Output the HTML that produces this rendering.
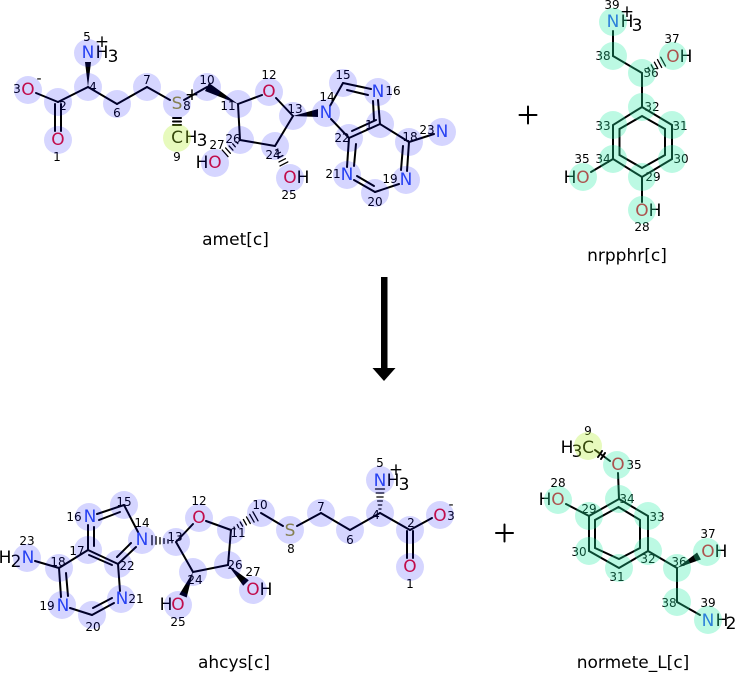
<!DOCTYPE html>
<html><head><meta charset="utf-8">
<style>
html,body{margin:0;padding:0;background:#fff;}
svg{display:block;}
text{font-family:"DejaVu Sans","Liberation Sans",sans-serif;}
.a{font-size:17px;text-anchor:middle;dominant-baseline:central;}
.n{font-size:12px;text-anchor:middle;dominant-baseline:central;fill:#000;}
.N{fill:#3050f0;}
.O{fill:#e8102a;}
.S{fill:#a09a30;}
.t{font-size:17px;text-anchor:middle;fill:#000;}
</style></head>
<body>
<svg width="735" height="674" viewBox="0 0 735 674" xmlns="http://www.w3.org/2000/svg">
<g stroke="#000" stroke-width="2" fill="none" stroke-linecap="round">
<!-- amet -->
<line x1="36" y1="93" x2="58" y2="102"/>
<line x1="55" y1="104" x2="55" y2="131"/>
<line x1="61" y1="104" x2="61" y2="131"/>
<line x1="58" y1="102" x2="88" y2="87"/>
<line x1="88" y1="87" x2="117" y2="104"/>
<line x1="117" y1="104" x2="147" y2="87"/>
<line x1="147" y1="87" x2="170" y2="100"/>
<line x1="184" y1="100" x2="207" y2="87"/>
<line x1="173" y1="118" x2="181" y2="118"/>
<line x1="173" y1="121.5" x2="181" y2="121.5"/>
<line x1="173" y1="125" x2="181" y2="125"/>
<line x1="238" y1="104" x2="262" y2="95"/>
<line x1="276" y1="98" x2="293" y2="116"/>
<line x1="293" y1="116" x2="275" y2="146"/>
<line x1="275" y1="146" x2="240" y2="140"/>
<line x1="240" y1="140" x2="238" y2="104"/>
<line x1="330" y1="106" x2="343" y2="83"/>
<line x1="343" y1="83" x2="371" y2="89"/>
<line x1="347" y1="90" x2="368" y2="95"/>
<line x1="378" y1="100" x2="380" y2="124"/>
<line x1="373" y1="101" x2="374" y2="120"/>
<line x1="380" y1="124" x2="349" y2="138"/>
<line x1="352" y1="131" x2="376" y2="120"/>
<line x1="349" y1="138" x2="331" y2="119"/>
<line x1="380" y1="124" x2="409" y2="142"/>
<line x1="409" y1="142" x2="407" y2="171"/>
<line x1="403" y1="146" x2="401" y2="170"/>
<line x1="399" y1="184" x2="375" y2="192"/>
<line x1="375" y1="192" x2="354" y2="180"/>
<line x1="374" y1="186" x2="357" y2="176"/>
<line x1="347" y1="167" x2="349" y2="138"/>
<line x1="354" y1="166" x2="356" y2="144"/>
<line x1="409" y1="142" x2="434" y2="134"/>
<!-- amet hashes -->
<g stroke-width="1.3">
<line x1="236.2" y1="141.8" x2="237.8" y2="143.6"/>
<line x1="232.7" y1="143.8" x2="235.3" y2="146.8"/>
<line x1="229.1" y1="145.9" x2="232.9" y2="150.1"/>
<line x1="225.6" y1="147.9" x2="230.4" y2="153.3"/>
<line x1="222.2" y1="150" x2="228" y2="156.6"/>
<line x1="275.7" y1="150.1" x2="277.9" y2="149.1"/>
<line x1="276.8" y1="154.1" x2="280.4" y2="152.3"/>
<line x1="277.9" y1="158" x2="282.9" y2="155.5"/>
<line x1="279" y1="161.9" x2="285.4" y2="158.7"/>
<line x1="280" y1="165.9" x2="287.8" y2="161.9"/>
</g>
<!-- nrpphr -->
<line x1="613" y1="31" x2="613" y2="56"/>
<line x1="613" y1="56" x2="642" y2="73"/>
<line x1="642" y1="73" x2="642" y2="107"/>
<polygon points="642,107 672,125 672,159 642,177 613,159 613,125"/>
<polygon points="642,116 665,129 665,155 642,168 619.5,155 619.5,129"/>
<line x1="613" y1="159" x2="591" y2="172"/>
<line x1="642" y1="177" x2="642" y2="202"/>
<g stroke-width="1.3">
<line x1="644.9" y1="70" x2="646.1" y2="72.2"/>
<line x1="648.1" y1="67.4" x2="650" y2="71"/>
<line x1="651.2" y1="64.8" x2="653.8" y2="69.8"/>
<line x1="654.4" y1="62.2" x2="657.8" y2="68.6"/>
<line x1="657.5" y1="59.6" x2="661.7" y2="67.4"/>
<line x1="660.7" y1="57.2" x2="665.5" y2="66"/>
</g>
<!-- ahcys -->
<line x1="35" y1="561" x2="59" y2="568"/>
<line x1="59" y1="568" x2="88" y2="550"/>
<line x1="88" y1="550" x2="118" y2="564"/>
<line x1="118" y1="564" x2="120" y2="591"/>
<line x1="114" y1="603" x2="92" y2="615"/>
<line x1="92" y1="615" x2="70" y2="608"/>
<line x1="61" y1="597" x2="59" y2="568"/>
<line x1="66" y1="573" x2="68" y2="596"/>
<line x1="93" y1="608" x2="112" y2="598"/>
<line x1="112" y1="565" x2="89" y2="555"/>
<line x1="88" y1="525" x2="88" y2="550"/>
<line x1="94" y1="527" x2="94" y2="546"/>
<line x1="97" y1="514" x2="124" y2="505"/>
<line x1="99" y1="520" x2="120" y2="512"/>
<line x1="124" y1="505" x2="138" y2="532"/>
<line x1="136" y1="547" x2="118" y2="564"/>
<line x1="131" y1="543" x2="117" y2="557"/>
<line x1="176" y1="542" x2="193" y2="524"/>
<line x1="206" y1="521" x2="231" y2="530"/>
<line x1="261" y1="513" x2="283" y2="526"/>
<line x1="297" y1="526" x2="321" y2="513"/>
<line x1="321" y1="513" x2="350" y2="530"/>
<line x1="350" y1="530" x2="380" y2="513"/>
<line x1="380" y1="513" x2="410" y2="530"/>
<line x1="407" y1="531" x2="407" y2="558"/>
<line x1="413" y1="531" x2="413" y2="558"/>
<line x1="410" y1="530" x2="432" y2="518"/>
<line x1="176" y1="542" x2="193" y2="572"/>
<line x1="193" y1="572" x2="228" y2="565"/>
<line x1="228" y1="565" x2="231" y2="530"/>
<g stroke-width="1.3">
<line x1="172" y1="540.7" x2="172" y2="542.7"/>
<line x1="168" y1="539.7" x2="168" y2="543.1"/>
<line x1="164" y1="538.7" x2="164" y2="543.5"/>
<line x1="160" y1="537.7" x2="160" y2="543.9"/>
<line x1="156" y1="536.7" x2="156" y2="544.3"/>
<line x1="152" y1="535.7" x2="152" y2="544.7"/>
<line x1="234" y1="527.1" x2="235" y2="528.9"/>
<line x1="237.2" y1="524.6" x2="238.8" y2="527.6"/>
<line x1="240.2" y1="522" x2="242.6" y2="526.2"/>
<line x1="243.4" y1="519.5" x2="246.4" y2="524.9"/>
<line x1="246.5" y1="516.9" x2="250.3" y2="523.5"/>
<line x1="249.7" y1="514.3" x2="254.1" y2="522.1"/>
<line x1="252.9" y1="511.8" x2="258" y2="520.8"/>
<line x1="379" y1="509" x2="381" y2="509"/>
<line x1="378.3" y1="505" x2="381.7" y2="505"/>
<line x1="377.6" y1="501" x2="382.4" y2="501"/>
<line x1="376.9" y1="497" x2="383.1" y2="497"/>
<line x1="376.2" y1="493" x2="383.8" y2="493"/>
<line x1="375.5" y1="489" x2="384.5" y2="489"/>
</g>
<!-- normete -->
<line x1="595" y1="450" x2="610" y2="461"/>
<line x1="598" y1="457" x2="602" y2="451"/>
<line x1="601" y1="459" x2="605" y2="453"/>
<line x1="618" y1="473" x2="619" y2="499"/>
<polygon points="619,499 648,516 648,551 619,568 589,551 589,516"/>
<polygon points="618.5,507 640,520 640,548 619,559 595,548 595,520"/>
<line x1="589" y1="516" x2="566" y2="504"/>
<line x1="648" y1="551" x2="677" y2="568"/>
<line x1="677" y1="568" x2="677" y2="602"/>
<line x1="677" y1="602" x2="700" y2="615"/>
<!-- plus signs -->
<line x1="519.5" y1="115" x2="536.5" y2="115"/>
<line x1="528" y1="106.5" x2="528" y2="123.5"/>
<line x1="496" y1="533" x2="513" y2="533"/>
<line x1="504.5" y1="524.5" x2="504.5" y2="541.5"/>
</g>
<g fill="#000">
<polygon points="88,87 85,62 91,62"/>
<polygon points="238,104 209,83 205,91"/>
<polygon points="293,116 318,109 318,117"/>
<polygon points="228,565 248.8,580.2 243.2,585.8"/>
<polygon points="193,572 186.7,597.5 179.3,594.5"/>
<polygon points="677,568 700.9,559.5 697.1,552.5"/>
<rect x="381" y="277" width="6.5" height="92"/>
<polygon points="372.5,368 395.5,368 384,381"/>
</g>

<!-- amet labels -->
<text class="a O" x="28" y="90">O</text>
<text class="n" x="17" y="89">3</text>
<text class="a" x="39" y="79" style="font-size:14px">-</text>
<text class="n" x="63" y="106">2</text>
<text class="a O" x="58" y="140">O</text>
<text class="n" x="57" y="157">1</text>
<text class="n" x="93" y="87">4</text>
<text class="a N" x="88" y="53">N</text>
<text class="a" x="102" y="53">H</text>
<text class="a" x="113" y="57">3</text>
<text class="a" x="102" y="42">+</text>
<text class="n" x="87" y="37">5</text>
<text class="n" x="117" y="113">6</text>
<text class="n" x="147" y="80">7</text>
<text class="a S" x="177" y="104">S</text>
<text class="n" x="187" y="106">8</text>
<text class="a" x="192" y="95">+</text>
<text class="a" x="177" y="138">C</text>
<text class="a" x="191" y="138">H</text>
<text class="a" x="202" y="141">3</text>
<text class="n" x="177" y="157">9</text>
<text class="n" x="207" y="80">10</text>
<text class="n" x="228" y="106">11</text>
<text class="a O" x="269" y="92">O</text>
<text class="n" x="269" y="75">12</text>
<text class="n" x="295" y="109">13</text>
<text class="a N" x="326" y="113">N</text>
<text class="n" x="327" y="97">14</text>
<text class="n" x="343" y="75">15</text>
<text class="a N" x="378" y="92">N</text>
<text class="n" x="393" y="91">16</text>
<text class="n" x="369" y="125">1</text>
<text class="n" x="342" y="138">22</text>
<text class="a N" x="347" y="175">N</text>
<text class="n" x="333" y="174">21</text>
<text class="n" x="375" y="202">20</text>
<text class="a N" x="406" y="180">N</text>
<text class="n" x="390" y="179">19</text>
<text class="n" x="410" y="137">18</text>
<text class="n" x="427" y="130">23</text>
<text class="a N" x="442" y="132">N</text>
<text class="n" x="273" y="155">24</text>
<text class="a O" x="290" y="178">O</text>
<text class="a" x="303" y="178">H</text>
<text class="n" x="289" y="195">25</text>
<text class="n" x="233" y="139">26</text>
<text class="n" x="217" y="145">27</text>
<text class="a" x="202" y="163">H</text>
<text class="a O" x="215" y="163">O</text>
<text class="t" x="235.5" y="245">amet[c]</text>

<!-- nrpphr labels -->
<text class="n" x="612" y="5">39</text>
<text class="a N" x="613" y="22">N</text>
<text class="a" x="627" y="22">H</text>
<text class="a" x="637" y="26">3</text>
<text class="a" x="627" y="12">+</text>
<text class="n" x="603" y="56">38</text>
<text class="n" x="672" y="39">37</text>
<text class="a O" x="673" y="57">O</text>
<text class="a" x="686" y="57">H</text>
<text class="n" x="651" y="73">36</text>
<text class="n" x="652" y="107">32</text>
<text class="n" x="603" y="126">33</text>
<text class="n" x="680" y="126">31</text>
<text class="n" x="603" y="159">34</text>
<text class="n" x="681" y="159">30</text>
<text class="n" x="653" y="177">29</text>
<text class="n" x="582" y="159">35</text>
<text class="a" x="570" y="178">H</text>
<text class="a O" x="583" y="178">O</text>
<text class="a O" x="642" y="211">O</text>
<text class="a" x="655" y="211">H</text>
<text class="n" x="642" y="227">28</text>
<text class="t" x="627" y="261">nrpphr[c]</text>

<!-- ahcys labels -->
<text class="a" x="5" y="558">H</text>
<text class="a" x="16" y="562">2</text>
<text class="a N" x="28" y="558">N</text>
<text class="n" x="27" y="541">23</text>
<text class="n" x="58" y="562">18</text>
<text class="n" x="77" y="551">17</text>
<text class="n" x="74" y="517">16</text>
<text class="a N" x="90" y="517">N</text>
<text class="n" x="124" y="502">15</text>
<text class="n" x="142" y="523">14</text>
<text class="a N" x="142" y="540">N</text>
<text class="n" x="127" y="566">22</text>
<text class="a N" x="122" y="599">N</text>
<text class="n" x="136" y="599">21</text>
<text class="n" x="47" y="606">19</text>
<text class="a N" x="63" y="606">N</text>
<text class="n" x="93" y="627">20</text>
<text class="n" x="175" y="537">13</text>
<text class="n" x="199" y="501">12</text>
<text class="a O" x="199" y="518">O</text>
<text class="n" x="238" y="533">11</text>
<text class="n" x="260" y="505">10</text>
<text class="a S" x="290" y="531">S</text>
<text class="n" x="291" y="549">8</text>
<text class="n" x="321" y="507">7</text>
<text class="n" x="350" y="540">6</text>
<text class="n" x="376" y="515">4</text>
<text class="n" x="380" y="463">5</text>
<text class="a N" x="380" y="481">N</text>
<text class="a" x="393" y="481">H</text>
<text class="a" x="404" y="485">3</text>
<text class="a" x="396" y="470">+</text>
<text class="n" x="411" y="523">2</text>
<text class="a O" x="410" y="567">O</text>
<text class="n" x="410" y="584">1</text>
<text class="a O" x="440" y="516">O</text>
<text class="n" x="451" y="516">3</text>
<text class="a" x="451" y="505" style="font-size:14px">-</text>
<text class="n" x="235" y="565">26</text>
<text class="n" x="195" y="580">24</text>
<text class="n" x="253" y="572">27</text>
<text class="a O" x="253" y="590">O</text>
<text class="a" x="266" y="590">H</text>
<text class="a" x="166" y="605">H</text>
<text class="a O" x="178" y="605">O</text>
<text class="n" x="178" y="622">25</text>
<text class="t" x="234" y="668">ahcys[c]</text>

<!-- normete labels -->
<text class="n" x="588" y="431">9</text>
<text class="a" x="567" y="448">H</text>
<text class="a" x="577" y="452">3</text>
<text class="a" x="588" y="448">C</text>
<text class="a O" x="618" y="465">O</text>
<text class="n" x="634" y="465">35</text>
<text class="n" x="627" y="499">34</text>
<text class="n" x="558" y="483">28</text>
<text class="a" x="545" y="500">H</text>
<text class="a O" x="558" y="500">O</text>
<text class="n" x="589" y="509">29</text>
<text class="n" x="657" y="517">33</text>
<text class="n" x="579" y="552">30</text>
<text class="n" x="648" y="559">32</text>
<text class="n" x="617" y="577">31</text>
<text class="n" x="679" y="562">36</text>
<text class="n" x="708" y="534">37</text>
<text class="a O" x="708" y="552">O</text>
<text class="a" x="721" y="552">H</text>
<text class="n" x="669" y="603">38</text>
<text class="n" x="708" y="603">39</text>
<text class="a N" x="708" y="621">N</text>
<text class="a" x="722" y="621">H</text>
<text class="a" x="731" y="624">2</text>
<text class="t" x="633" y="668">normete_L[c]</text>

<!-- highlight circles (overlay) -->
<g opacity="0.16" fill="#0000ff">
<circle cx="28" cy="90" r="14"/><circle cx="58" cy="102" r="14"/><circle cx="58" cy="140" r="14"/>
<circle cx="88" cy="87" r="14"/><circle cx="88" cy="53" r="14"/><circle cx="117" cy="104" r="14"/>
<circle cx="147" cy="87" r="14"/><circle cx="177" cy="104" r="14"/><circle cx="207" cy="87" r="14"/>
<circle cx="238" cy="104" r="14"/><circle cx="269" cy="92" r="14"/><circle cx="293" cy="116" r="14"/>
<circle cx="275" cy="146" r="14"/><circle cx="240" cy="140" r="14"/><circle cx="215" cy="163" r="14"/>
<circle cx="290" cy="178" r="14"/><circle cx="326" cy="113" r="14"/><circle cx="343" cy="83" r="14"/>
<circle cx="378" cy="92" r="14"/><circle cx="380" cy="124" r="14"/><circle cx="349" cy="138" r="14"/>
<circle cx="347" cy="175" r="14"/><circle cx="375" cy="193" r="14"/><circle cx="406" cy="180" r="14"/>
<circle cx="409" cy="142" r="14"/><circle cx="442" cy="132" r="14"/>
<circle cx="27" cy="558" r="14"/><circle cx="59" cy="568" r="14"/><circle cx="62" cy="605" r="14"/>
<circle cx="92" cy="615" r="14"/><circle cx="121" cy="599" r="14"/><circle cx="118" cy="564" r="14"/>
<circle cx="88" cy="550" r="14"/><circle cx="89" cy="517" r="14"/><circle cx="124" cy="505" r="14"/>
<circle cx="142" cy="540" r="14"/><circle cx="176" cy="542" r="14"/><circle cx="199" cy="518" r="14"/>
<circle cx="231" cy="530" r="14"/><circle cx="261" cy="513" r="14"/><circle cx="290" cy="530" r="14"/>
<circle cx="321" cy="513" r="14"/><circle cx="350" cy="530" r="14"/><circle cx="380" cy="513" r="14"/>
<circle cx="380" cy="480" r="14"/><circle cx="410" cy="530" r="14"/><circle cx="410" cy="567" r="14"/>
<circle cx="440" cy="515" r="14"/><circle cx="228" cy="565" r="14"/><circle cx="193" cy="572" r="14"/>
<circle cx="253" cy="590" r="14"/><circle cx="178" cy="605" r="14"/>
</g>
<g opacity="0.3" fill="#26eea5">
<circle cx="613" cy="22" r="14"/><circle cx="613" cy="56" r="14"/><circle cx="642" cy="73" r="14"/>
<circle cx="673" cy="56" r="14"/><circle cx="642" cy="107" r="14"/><circle cx="613" cy="125" r="14"/>
<circle cx="672" cy="125" r="14"/><circle cx="613" cy="159" r="14"/><circle cx="672" cy="159" r="14"/>
<circle cx="642" cy="177" r="14"/><circle cx="583" cy="177" r="14"/><circle cx="642" cy="210" r="14"/>
<circle cx="617" cy="465" r="14"/><circle cx="619" cy="499" r="14"/><circle cx="589" cy="516" r="14"/>
<circle cx="558" cy="500" r="14"/><circle cx="648" cy="516" r="14"/><circle cx="589" cy="551" r="14"/>
<circle cx="648" cy="551" r="14"/><circle cx="619" cy="568" r="14"/><circle cx="677" cy="568" r="14"/>
<circle cx="707" cy="552" r="14"/><circle cx="677" cy="602" r="14"/><circle cx="708" cy="620" r="14"/>
</g>
<g opacity="0.3" fill="#aeee26">
<circle cx="177" cy="138" r="14"/>
<circle cx="588" cy="446" r="14"/>
</g>
</svg>
</body></html>
